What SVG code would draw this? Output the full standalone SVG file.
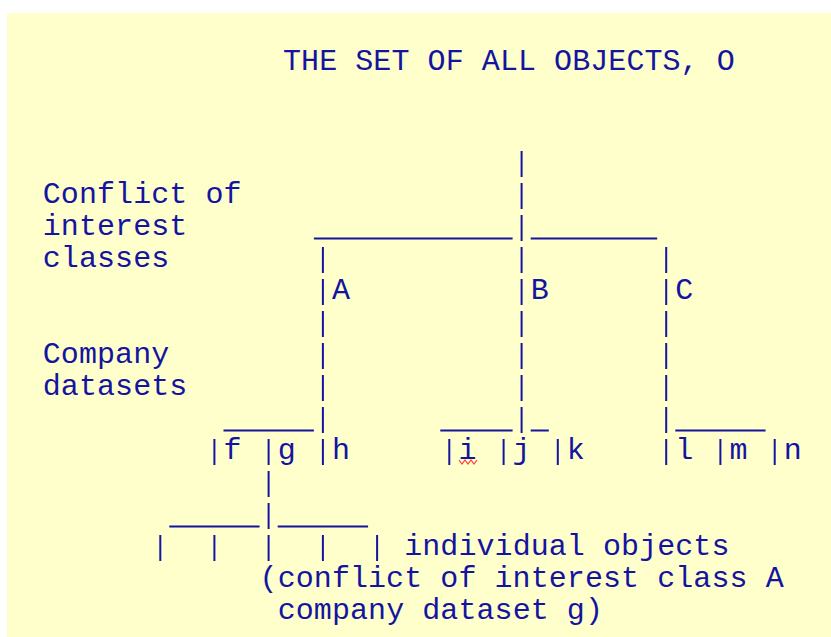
<svg xmlns="http://www.w3.org/2000/svg" width="831" height="637" viewBox="0 0 831 637">
<style>
  text { font-family: "Liberation Mono", "DejaVu Sans Mono", monospace; font-size: 30px; fill: #1414A0; letter-spacing: 0.07px; white-space: pre; }
  .pipe { stroke: #1414A0; stroke-width: 2; fill: none; stroke-dasharray: 26 6; }
  .bar { stroke: #1414A0; stroke-width: 2; fill: none; }
  .squig { stroke: #FF3B3B; stroke-width: 1.2; fill: none; }
</style>
<rect x="0" y="0" width="831" height="637" fill="#FFFFFF"/>
<rect x="7" y="13" width="824" height="624" fill="#FFFFCC"/>

<g id="connectors">
  <!-- vertical pipes (dashed per text row) -->
  <line class="pipe" x1="521.6" y1="151" x2="521.6" y2="433"/>
  <line class="pipe" x1="322.9" y1="247" x2="322.9" y2="465"/>
  <line class="pipe" x1="322.9" y1="535" x2="322.9" y2="561"/>
  <line class="pipe" x1="666.2" y1="247" x2="666.2" y2="465"/>
  <line class="pipe" x1="214.4" y1="439" x2="214.4" y2="465"/>
  <line class="pipe" x1="214.4" y1="535" x2="214.4" y2="561"/>
  <line class="pipe" x1="268.6" y1="439" x2="268.6" y2="561"/>
  <line class="pipe" x1="449.3" y1="439" x2="449.3" y2="465"/>
  <line class="pipe" x1="503.6" y1="439" x2="503.6" y2="465"/>
  <line class="pipe" x1="557.8" y1="439" x2="557.8" y2="465"/>
  <line class="pipe" x1="720.4" y1="439" x2="720.4" y2="465"/>
  <line class="pipe" x1="774.7" y1="439" x2="774.7" y2="465"/>
  <line class="pipe" x1="160.3" y1="535" x2="160.3" y2="561"/>
  <line class="pipe" x1="377.1" y1="535" x2="377.1" y2="561"/>
  <!-- horizontal underscores -->
  <line class="bar" x1="313.9" y1="238.5" x2="512.6" y2="238.5"/>
  <line class="bar" x1="530.7" y1="238.5" x2="657.2" y2="238.5"/>
  <line class="bar" x1="223.5" y1="430.5" x2="313.9" y2="430.5"/>
  <line class="bar" x1="440.3" y1="430.5" x2="512.6" y2="430.5"/>
  <line class="bar" x1="530.7" y1="430.5" x2="548.8" y2="430.5"/>
  <line class="bar" x1="675.3" y1="430.5" x2="765.6" y2="430.5"/>
  <line class="bar" x1="169.3" y1="526.5" x2="259.6" y2="526.5"/>
  <line class="bar" x1="277.7" y1="526.5" x2="368.1" y2="526.5"/>
</g>

<g id="node-O"><text x="283" y="70">THE SET OF ALL OBJECTS, O</text></g>

<g id="label-classes">
  <text x="42.8" y="203">Conflict of</text>
  <text x="42.8" y="235">interest</text>
  <text x="42.8" y="267">classes</text>
</g>
<g id="label-datasets">
  <text x="42.8" y="363">Company</text>
  <text x="42.8" y="395">datasets</text>
</g>

<g id="node-A"><text x="331.9" y="299">A</text></g>
<g id="node-B"><text x="530.7" y="299">B</text></g>
<g id="node-C"><text x="675.3" y="299">C</text></g>

<g id="node-f"><text x="223.5" y="459">f</text></g>
<g id="node-g"><text x="277.7" y="459">g</text></g>
<g id="node-h"><text x="331.9" y="459">h</text></g>
<g id="node-i"><text x="458.4" y="459">i</text>
  <polyline class="squig" points="459,460 462,464 465,460 468,464 471,460 474,464 477,460"/></g>
<g id="node-j"><text x="512.6" y="459">j</text></g>
<g id="node-k"><text x="566.8" y="459">k</text></g>
<g id="node-l"><text x="675.3" y="459">l</text></g>
<g id="node-m"><text x="729.5" y="459">m</text></g>
<g id="node-n"><text x="783.7" y="459">n</text></g>

<g id="node-objects">
  <text x="404.2" y="555">individual objects</text>
  <text x="259.6" y="587">(conflict of interest class A</text>
  <text x="277.7" y="619">company dataset g)</text>
</g>
</svg>
